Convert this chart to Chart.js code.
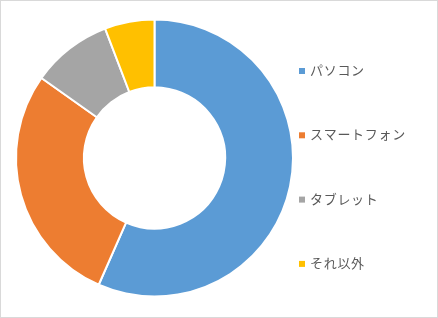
<!DOCTYPE html>
<html>
<head>
<meta charset="utf-8">
<script src="https://cdn.jsdelivr.net/npm/chart.js@4/dist/chart.umd.min.js"></script>
<style>
  html, body { margin: 0; padding: 0; background: #fff; }
  #wrap { width: 438px; height: 318px; box-sizing: border-box; border: 1px solid #d9d9d9; position: relative; }
</style>
</head>
<body>
<div id="wrap"><canvas id="c"></canvas></div>
<script>
const categories = ["パソコン", "スマートフォン", "タブレット", "それ以外"];
const shares = [56.6, 28.2, 9.4, 5.8];
const sliceColors = ["#5B9BD5", "#ED7D31", "#A5A5A5", "#FFC000"];

// Right-side legend drawn from the chart's own label/colour data
const sideLegend = {
  id: 'sideLegend',
  afterDraw(chart) {
    const ctx = chart.ctx;
    const labels = chart.data.labels;
    const colors = chart.data.datasets[0].backgroundColor;
    const x0 = chart.chartArea.right + 5;
    const firstY = 69;
    const gap = 64.3;
    ctx.save();
    ctx.font = "13px 'Noto Sans CJK JP', 'Noto Sans', sans-serif";
    ctx.letterSpacing = '0.7px';
    ctx.textBaseline = 'middle';
    ctx.textAlign = 'left';
    labels.forEach((lab, i) => {
      const y = firstY + i * gap;
      ctx.fillStyle = colors[i];
      ctx.fillRect(x0, y - 2, 6, 6);
      ctx.fillStyle = '#595959';
      ctx.fillText(lab, x0 + 11, y);
    });
    ctx.restore();
  }
};

new Chart(document.getElementById('c'), {
  type: 'doughnut',
  data: {
    labels: categories,
    datasets: [{
      data: shares,
      backgroundColor: sliceColors,
      borderColor: '#ffffff',
      borderWidth: 2
    }]
  },
  options: {
    responsive: true,
    maintainAspectRatio: false,
    animation: false,
    cutout: '51%',
    layout: { padding: { top: 17, bottom: 19, left: 14, right: 143 } },
    plugins: {
      tooltip: { enabled: false },
      legend: { display: false }
    }
  },
  plugins: [sideLegend]
});
</script>
</body>
</html>
